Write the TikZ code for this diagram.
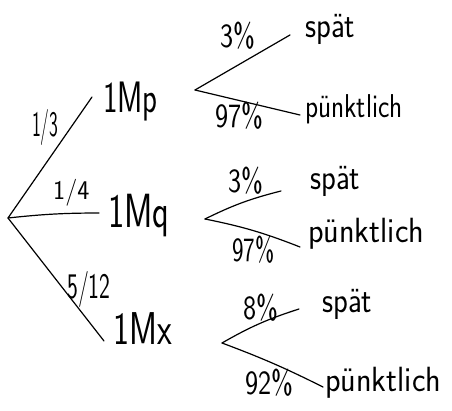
\documentclass[tikz,border=0pt]{standalone}
\usepackage{graphicx}
\newcommand\hwtxt[3]{\scalebox{#2}[1]{\sffamily\fontsize{#1}{#1}\selectfont #3}}
\begin{document}
\begin{tikzpicture}[x=1pt,y=1pt,
  lbl/.style={inner sep=0pt, anchor=base west},
  branch/.style={line width=1.2pt, line cap=round}]
\fill[white] (0,0) rectangle (452,411);
\useasboundingbox (0,0) rectangle (452,411);
% main tree
\coordinate (R) at (8,193);
\coordinate (eP) at (92,314);
\coordinate (eQ) at (99,198);
\coordinate (eX) at (104,70);
\node[lbl] (Mp) at (103,298) {\hwtxt{44}{0.7}{1Mp}};
\node[lbl] (Mq) at (108,183) {\hwtxt{48}{0.72}{1Mq}};
\node[lbl] (Mx) at (113,66) {\hwtxt{46}{0.74}{1Mx}};
\draw[branch] (R) -- (eP);
\draw[branch] (R) to[bend left=3] (eQ);
\draw[branch] (R) -- (eX);
\node[lbl] (pP) at (32,274) {\hwtxt{36}{0.52}{1/3}};
\node[lbl] (pQ) at (53,211) {\hwtxt{27}{0.95}{1/4}};
\node[lbl] (pX) at (67,112) {\hwtxt{36}{0.64}{5/12}};
% subtree 1
\coordinate (S1) at (195,321);
\coordinate (U1) at (290,376);
\coordinate (D1) at (300,296);
\draw[branch] (S1) -- (U1);
\draw[branch] (S1) -- (D1);
\node[lbl] (a1) at (220,363) {\hwtxt{34}{0.82}{3\%}};
\node[lbl] (b1) at (215,283) {\hwtxt{34}{0.82}{97\%}};
\node[lbl] (s1) at (305,373) {\hwtxt{36}{0.85}{spät}};
\node[lbl] (p1) at (305,293) {\hwtxt{33}{0.82}{pünktlich}};
% subtree 2
\coordinate (S2) at (205,192);
\coordinate (U2) at (281,220);
\coordinate (D2) at (300,164);
\draw[branch] (S2) to[bend left=6] (U2);
\draw[branch] (S2) to[bend left=5] (D2);
\node[lbl] (a2) at (228,218) {\hwtxt{34}{0.82}{3\%}};
\node[lbl] (b2) at (232,149) {\hwtxt{34}{0.72}{97\%}};
\node[lbl] (s2) at (310,221) {\hwtxt{36}{0.85}{spät}};
\node[lbl] (p2) at (308,168) {\hwtxt{35}{0.92}{pünktlich}};
% subtree 3
\coordinate (S3) at (222,68);
\coordinate (U3) at (299,102);
\coordinate (D3) at (323,24);
\draw[branch] (S3) to[bend left=6] (U3);
\draw[branch] (S3) to[bend left=3] (D3);
\node[lbl] (a3) at (243,91) {\hwtxt{34}{0.82}{8\%}};
\node[lbl] (b3) at (245,16) {\hwtxt{34}{0.82}{92\%}};
\node[lbl] (s3) at (322,98) {\hwtxt{36}{0.85}{spät}};
\node[lbl] (p3) at (325,19) {\hwtxt{35}{0.92}{pünktlich}};
\end{tikzpicture}
\end{document}
